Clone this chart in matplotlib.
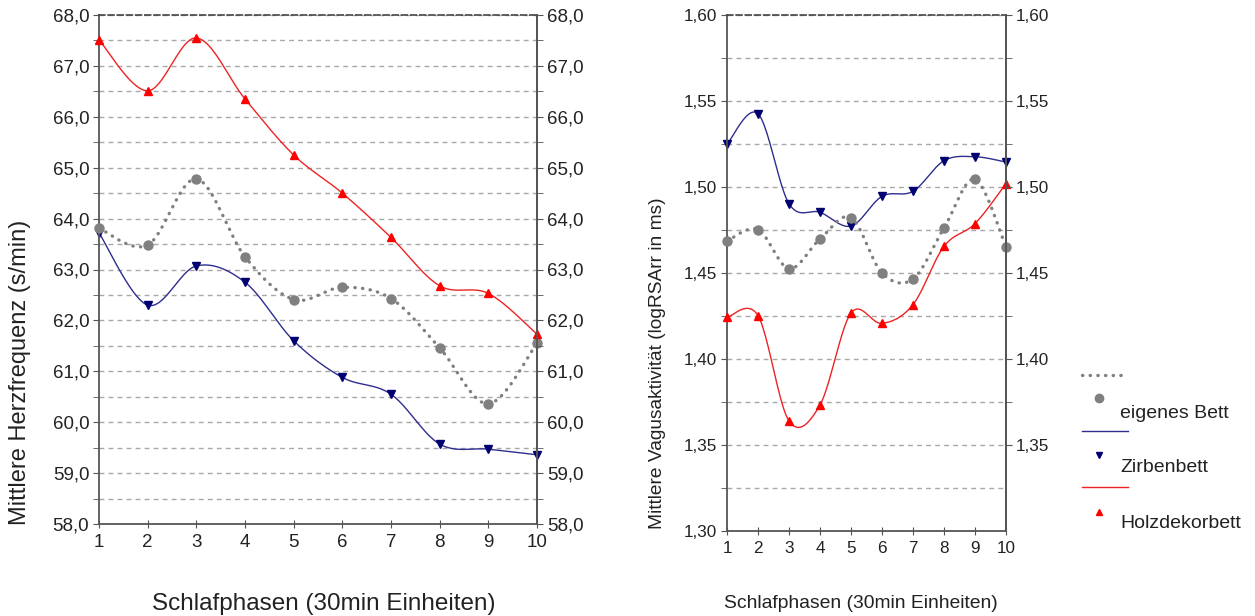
import numpy as np
import matplotlib
matplotlib.use("Agg")
import matplotlib.pyplot as plt
from matplotlib.lines import Line2D
from matplotlib.ticker import MultipleLocator, FuncFormatter, FixedLocator

plt.rcParams['font.family'] = ['Liberation Sans', 'DejaVu Sans']

# Daten
phasen = [1, 2, 3, 4, 5, 6, 7, 8, 9, 10]

# Herzfrequenz (s/min)
hf_eigen = [63.81, 63.48, 64.78, 63.25, 62.41, 62.65, 62.43, 61.46, 60.36, 61.55]
hf_zirbe = [63.72, 62.30, 63.07, 62.75, 61.60, 60.88, 60.55, 59.57, 59.47, 59.36]
hf_holz = [67.51, 66.51, 67.55, 66.35, 65.25, 64.50, 63.63, 62.68, 62.53, 61.73]

# Vagusaktivitaet (logRSArr in ms)
va_eigen = [1.4686, 1.4752, 1.4525, 1.4698, 1.4822, 1.4500, 1.4465, 1.4762, 1.5045, 1.4651]
va_zirbe = [1.5248, 1.5426, 1.4903, 1.4853, 1.4773, 1.4946, 1.4975, 1.5153, 1.5176, 1.5145]
va_holz = [1.4242, 1.4252, 1.3640, 1.3733, 1.4267, 1.4207, 1.4316, 1.4655, 1.4787, 1.5020]

serien = ["eigenes Bett", "Zirbenbett", "Holzdekorbett"]

W, H = 1255, 616
GRAU = '#808080'
BLAU_L = '#2E2E8E'
BLAU_M = '#000070'
ROT_L = '#EE2222'
ROT_M = '#FF0000'
ACHSE = '#555555'


def glatt(x, y, n=24):
    # Catmull-Rom wie die "geglaettete Linie" in Excel
    x = np.asarray(x, float)
    y = np.asarray(y, float)
    px = np.concatenate([[x[0]], x, [x[-1]]])
    py = np.concatenate([[y[0]], y, [y[-1]]])
    xs, ys = [], []
    for i in range(1, len(px) - 2):
        t = np.linspace(0, 1, n, endpoint=False)
        h00 = 2 * t**3 - 3 * t**2 + 1
        h10 = t**3 - 2 * t**2 + t
        h01 = -2 * t**3 + 3 * t**2
        h11 = t**3 - t**2
        mx1 = (px[i + 1] - px[i - 1]) / 2
        mx2 = (px[i + 2] - px[i]) / 2
        my1 = (py[i + 1] - py[i - 1]) / 2
        my2 = (py[i + 2] - py[i]) / 2
        xs.append(h00 * px[i] + h10 * mx1 + h01 * px[i + 1] + h11 * mx2)
        ys.append(h00 * py[i] + h10 * my1 + h01 * py[i + 1] + h11 * my2)
    xs.append([x[-1]])
    ys.append([y[-1]])
    return np.concatenate(xs), np.concatenate(ys)


def komma(nk):
    return FuncFormatter(lambda v, p: f"{v:.{nk}f}".replace('.', ','))


def zeichne(ax, eigen, zirbe, holz):
    gx, gy = glatt(phasen, eigen)
    ax.plot(gx, gy, color=GRAU, lw=2.4, linestyle=(0, (0.1, 2.2)),
            dash_capstyle='round', zorder=3, clip_on=False)
    ax.plot(phasen, eigen, 'o', color=GRAU, ms=6.5, zorder=3, clip_on=False)
    bx, by = glatt(phasen, zirbe)
    ax.plot(bx, by, color=BLAU_L, lw=1.0, zorder=2, clip_on=False)
    ax.plot(phasen, zirbe, 'v', color=BLAU_M, ms=6, zorder=2, clip_on=False)
    rx, ry = glatt(phasen, holz)
    ax.plot(rx, ry, color=ROT_L, lw=1.0, zorder=4, clip_on=False)
    ax.plot(phasen, holz, '^', color=ROT_M, ms=6, zorder=4, clip_on=False)


def achsen(ax, ymin, ymax, major, minor, nk, rechts_ticks, rechts_minor, fs):
    ax.set_xlim(1, 10)
    ax.set_ylim(ymin, ymax)
    ax.set_xticks(phasen)
    ax.yaxis.set_major_locator(MultipleLocator(major))
    ax.yaxis.set_minor_locator(MultipleLocator(minor))
    ax.yaxis.set_major_formatter(komma(nk))
    ax.tick_params(axis='y', which='both', direction='out', length=4,
                   color=ACHSE, labelsize=fs, pad=3, labelcolor='#222222')
    ax.tick_params(axis='x', direction='inout', length=6, color=ACHSE,
                   labelsize=fs, pad=4, labelcolor='#222222')
    ax.grid(True, axis='y', which='both', color='#a8a8a8', lw=1.0,
            linestyle=(0, (3.5, 3)))
    for s in ['left', 'bottom', 'right']:
        ax.spines[s].set_color(ACHSE)
        ax.spines[s].set_linewidth(1.3)
    ax.spines['top'].set_color('#444444')
    ax.spines['top'].set_linestyle((0, (3.5, 2)))
    ax.spines['top'].set_linewidth(1.2)

    tw = ax.twinx()
    tw.set_ylim(ymin, ymax)
    tw.yaxis.set_major_locator(FixedLocator(rechts_ticks))
    tw.yaxis.set_minor_locator(FixedLocator(rechts_minor))
    tw.yaxis.set_major_formatter(komma(nk))
    tw.tick_params(axis='y', which='both', direction='out', length=4,
                   color=ACHSE, labelsize=fs, pad=3, labelcolor='#222222')
    for s in ['left', 'bottom', 'top']:
        tw.spines[s].set_visible(False)
    tw.spines['right'].set_color(ACHSE)
    tw.spines['right'].set_linewidth(1.3)
    return tw


fig = plt.figure(figsize=(W / 100, H / 100), dpi=100)

ax1 = fig.add_axes([99 / W, 1 - 524 / H, (537 - 99) / W, (524 - 15) / H])
zeichne(ax1, hf_eigen, hf_zirbe, hf_holz)
achsen(ax1, 58, 68, 1, 0.5, 1,
       np.arange(58, 68.01, 1), np.arange(58.5, 68, 1), 13.5)

ax2 = fig.add_axes([727 / W, 1 - 531 / H, (1006 - 727) / W, (531 - 15) / H])
zeichne(ax2, va_eigen, va_zirbe, va_holz)
achsen(ax2, 1.30, 1.60, 0.05, 0.025, 2,
       np.arange(1.35, 1.601, 0.05), np.arange(1.375, 1.6, 0.05), 12.3)

# Achsentitel
fig.text(20 / W, 1 - 372 / H, "Mittlere Herzfrequenz (s/min)", rotation=90,
         ha='center', va='center', fontsize=17, color='#222222')
fig.text(324 / W, 1 - 604 / H, "Schlafphasen (30min Einheiten)",
         ha='center', va='center', fontsize=17.5, color='#222222')
fig.text(657 / W, 1 - 363 / H, "Mittlere Vagusaktivität (logRSArr in ms)",
         rotation=90, ha='center', va='center', fontsize=13.8, color='#222222')
fig.text(861 / W, 1 - 603 / H, "Schlafphasen (30min Einheiten)",
         ha='center', va='center', fontsize=13.9, color='#222222')

# Legende
leg = [
    (375, 398, 413, dict(color=GRAU, lw=2.4, linestyle=(0, (0.1, 2.2)),
                         dash_capstyle='round'), 'o', GRAU, 6),
    (431, 455, 467, dict(color=BLAU_L, lw=1.0), 'v', BLAU_M, 5),
    (487, 512, 523, dict(color=ROT_L, lw=1.0), '^', ROT_M, 5),
]
for (ly, my, ty, stil, mk, mc, ms), name in zip(leg, serien):
    fig.add_artist(Line2D([1082 / W, 1128 / W], [1 - ly / H] * 2,
                          transform=fig.transFigure, **stil))
    fig.add_artist(Line2D([1099 / W], [1 - my / H], transform=fig.transFigure,
                          marker=mk, color=mc, ms=ms, linestyle='none'))
    fig.text(1120 / W, 1 - ty / H, name, ha='left', va='center',
             fontsize=14, color='#222222')

fig.savefig("out.png", dpi=100)
